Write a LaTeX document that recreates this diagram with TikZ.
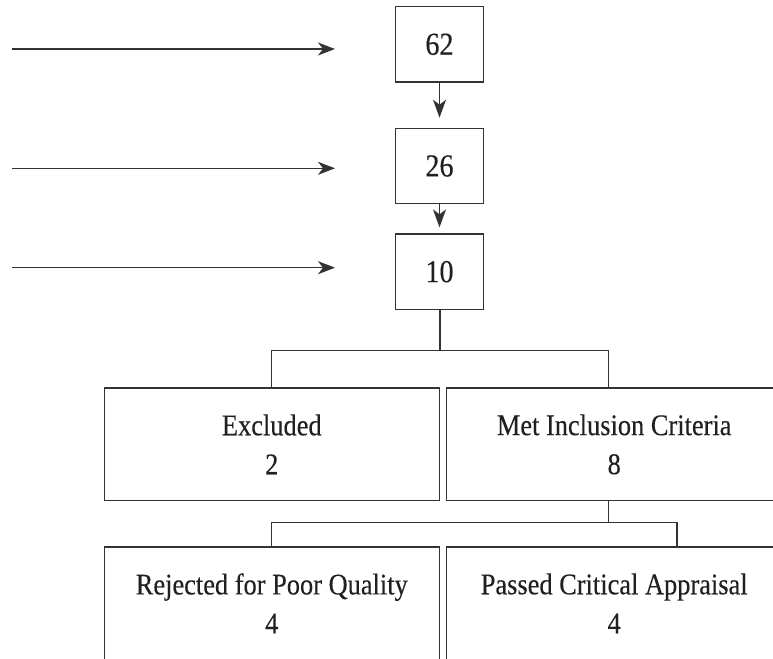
\documentclass[tikz,border=0pt]{standalone}
\usepackage{fontspec}
\setmainfont{Liberation Serif}[FakeStretch=0.88, FakeBold=0.3]
\usetikzlibrary{arrows.meta}
\definecolor{ink}{HTML}{231F20}
\definecolor{rule}{HTML}{333333}
\tikzset{
  numbox/.style={draw=rule, line width=1.3pt, rectangle, minimum width=88.5pt, minimum height=75.3pt, inner sep=0pt, text=ink, font={\fontsize{32}{38}\selectfont}},
  bigbox/.style={draw=rule, line width=1.3pt, rectangle, minimum width=335pt, minimum height=112.7pt, inner sep=0pt, align=center, text=ink, font={\fontsize{30}{39}\selectfont}},
  feedarrow/.style={draw=rule, line width=1.5pt, -{Stealth[length=17pt, width=13pt, inset=5pt]}},
  downarrow/.style={draw=rule, line width=1.5pt, -{Stealth[length=18pt, width=13pt, inset=5pt]}},
  treeline/.style={draw=rule, line width=1.3pt},
  trunkline/.style={draw=rule, line width=2pt}
}
\begin{document}
\begin{tikzpicture}[x=1pt, y=-1pt]
\useasboundingbox (0,0) rectangle (773,658);
\clip (0,0) rectangle (773,658);
% top boxes
\node[numbox] (n62) at (439.5,44.3) {62};
\node[numbox] (n26) at (439.5,166) {26};
\node[numbox] (n10) at (439.5,271.7) {10};
% lower boxes
\node[bigbox] (exc) at (271.8,444.35) {Excluded\\2};
\node[bigbox] (met) at (614.2,444.35) {Met Inclusion Criteria\\8};
\node[bigbox] (rej) at (271.8,603.35) {Rejected for Poor Quality\\4};
\node[bigbox] (pas) at (614.2,603.35) {Passed Critical Appraisal\\4};
% incoming arrows (free ends)
\coordinate (a1s) at (12,49);
\coordinate (a1e) at (335,49);
\coordinate (a2s) at (12,168.3);
\coordinate (a2e) at (335,168.3);
\coordinate (a3s) at (12,267.7);
\coordinate (a3e) at (335,267.7);
\draw[feedarrow] (a1s) -- (a1e);
\draw[feedarrow] (a2s) -- (a2e);
\draw[feedarrow] (a3s) -- (a3e);
% vertical arrows
\draw[downarrow, shorten >=10pt] (n62.south) -- (n26.north);
\draw[downarrow, shorten >=6pt] (n26.south) -- (n10.north);
% tree
\coordinate (j0) at (439.5,350.7);
\coordinate (j1) at (608.5,522.7);
\draw[trunkline] (n10.south) -- (j0);
\draw[treeline] (exc.north) |- (j0) -| ([xshift=-6pt]met.north);
\draw[treeline] ([xshift=-5.7pt]met.south) -- (j1);
\draw[treeline] (rej.north) |- (j1) -| ([xshift=62.8pt]pas.north);
\end{tikzpicture}
\end{document}
